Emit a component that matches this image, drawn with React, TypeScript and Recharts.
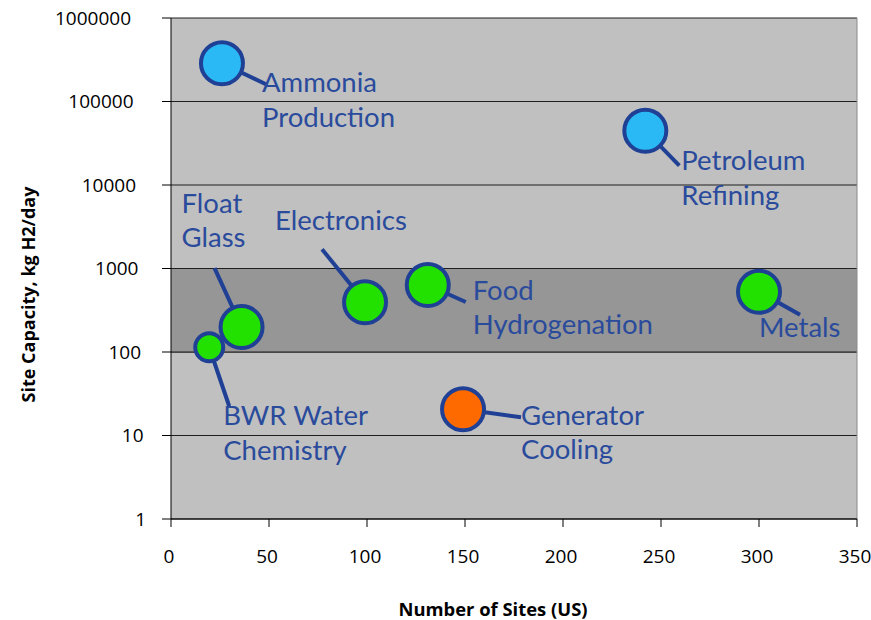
import React from "react";
import {
  ScatterChart,
  Scatter,
  XAxis,
  YAxis,
  ZAxis,
  CartesianGrid,
  ReferenceArea,
  ReferenceLine,
} from "recharts";

// ---- data ----
const SECTORS = [
  "Ammonia Production",
  "Petroleum Refining",
  "Float Glass",
  "BWR Water Chemistry",
  "Electronics",
  "Food Hydrogenation",
  "Metals",
  "Generator Cooling",
];
const SITE_COUNTS = [26, 242, 36, 19.5, 99, 131, 300, 149];
const SITE_CAPACITY = [287000, 44700, 199, 114, 394, 634, 527, 20.6];
const BUBBLE_WEIGHT = [3, 3, 3, 1, 3, 3, 3, 3];
const TIER = ["large", "large", "mid", "mid", "mid", "mid", "mid", "small"];
const LABEL_LINES = [
  ["Ammonia", "Production"],
  ["Petroleum", "Refining"],
  ["Float", "Glass"],
  ["BWR Water", "Chemistry"],
  ["Electronics"],
  ["Food", "Hydrogenation"],
  ["Metals"],
  ["Generator", "Cooling"],
];
const X_TICKS = [0, 50, 100, 150, 200, 250, 300, 350];
const Y_TICKS = [1, 10, 100, 1000, 10000, 100000, 1000000];
const BAND = [100, 1000];

const points = SECTORS.map((name, i) => ({
  name,
  sites: SITE_COUNTS[i],
  capacity: SITE_CAPACITY[i],
  z: BUBBLE_WEIGHT[i],
  tier: TIER[i],
  lines: LABEL_LINES[i],
}));

// ---- styles / layout ----
const FILL: Record<string, string> = {
  large: "#2bb9f5",
  mid: "#22e000",
  small: "#ff6a00",
};
const NAVY = "#1f4095";
const TEXT_BLUE = "#2a4b9c";
// leader-line end (lx, ly) and label anchor (tx, ty) relative to bubble centre, line gap
const LAYOUT: Record<string, { lx: number; ly: number; tx: number; ty: number; gap: number }> = {
  "Ammonia Production": { lx: 44, ly: 21, tx: 40, ty: 29, gap: 35 },
  "Petroleum Refining": { lx: 34, ly: 35, tx: 36, ty: 39, gap: 35 },
  "Float Glass": { lx: -27, ly: -59, tx: -60, ty: -114, gap: 34 },
  "BWR Water Chemistry": { lx: 20, ly: 59, tx: 14, ty: 78, gap: 35 },
  Electronics: { lx: -43, ly: -53, tx: -90, ty: -72, gap: 35 },
  "Food Hydrogenation": { lx: 38, ly: 17, tx: 45, ty: 15, gap: 34 },
  Metals: { lx: 41, ly: 23, tx: 0, ty: 45, gap: 35 },
  "Generator Cooling": { lx: 58, ly: 8, tx: 58, ty: 16, gap: 34 },
};

const Bubble = (props: any) => {
  const { cx, cy, payload } = props;
  if (cx == null || cy == null) return null;
  const size = props.size ?? (props.width ? Math.PI * (props.width / 2) ** 2 : 1385);
  const r = Math.sqrt(size / Math.PI);
  const L = LAYOUT[payload.name];
  return (
    <g>
      <line x1={cx} y1={cy} x2={cx + L.lx} y2={cy + L.ly} stroke={NAVY} strokeWidth={4} />
      <circle cx={cx} cy={cy} r={r} fill={FILL[payload.tier]} stroke={NAVY} strokeWidth={4} />
      {payload.lines.map((t: string, k: number) => (
        <text
          key={k}
          x={cx + L.tx}
          y={cy + L.ty + k * L.gap}
          fill={TEXT_BLUE}
          fontFamily="Lato, 'Noto Sans', sans-serif"
          fontSize={27.5}
        >
          {t}
        </text>
      ))}
    </g>
  );
};

const YTick = (p: any) => {
  const s = String(p.payload.value);
  return (
    <text
      x={p.x - 2.5 * (s.length - 1)}
      y={p.y}
      dy="0.36em"
      textAnchor="end"
      fill="#000"
      fontFamily="'Open Sans', sans-serif"
      fontSize={19}
    >
      {s}
    </text>
  );
};

const XTick = (p: any) => (
  <text
    x={p.x - 2}
    y={p.y}
    dy="0.74em"
    textAnchor="middle"
    fill="#000"
    fontFamily="'Open Sans', sans-serif"
    fontSize={19}
  >
    {p.payload.value}
  </text>
);

const XTitle = (p: any) => {
  const vb = p.viewBox || { x: 171, y: 519, width: 686, height: 101 };
  const x = vb.x + vb.width / 2 - 21;
  const y = vb.y + 97;
  return (
    <text
      x={x}
      y={y}
      textAnchor="middle"
      fontFamily="'Open Sans', sans-serif"
      fontWeight={700}
      fontSize={18}
      fill="#000"
      textLength={189}
      lengthAdjust="spacingAndGlyphs"
    >
      Number of Sites (US)
    </text>
  );
};

const YTitle = (p: any) => {
  const vb = p.viewBox || { x: 0, y: 18, width: 171, height: 501 };
  const x = vb.x + 35;
  const y = vb.y + vb.height / 2 + 26;
  return (
    <text
      x={x}
      y={y}
      transform={`rotate(-90, ${x}, ${y})`}
      textAnchor="middle"
      fontFamily="'Open Sans', sans-serif"
      fontWeight={700}
      fontSize={18}
      fill="#000"
      textLength={216}
      lengthAdjust="spacingAndGlyphs"
    >
      Site Capacity, kg H2/day
    </text>
  );
};

export default function App() {
  return (
    <div style={{ position: "absolute", left: 0, top: 0, width: 871, height: 620, background: "#fff" }}>
      <ScatterChart width={871} height={620} margin={{ top: 18, right: 14, bottom: 0, left: 0 }}>
        <CartesianGrid
          horizontal
          vertical={false}
          stroke="#1e1e1e"
          strokeOpacity={1}
          fill="#c0c0c0"
          fillOpacity={1}
        />
        <ReferenceArea y1={BAND[0]} y2={BAND[1]} fill="#969696" fillOpacity={1} stroke="none" />
        <ReferenceLine y={BAND[0]} stroke="#1e1e1e" strokeWidth={1} />
        <ReferenceLine y={BAND[1]} stroke="#1e1e1e" strokeWidth={1} />
        <ReferenceLine x={350} stroke="#8a8a8a" strokeWidth={1} />
        <XAxis
          type="number"
          dataKey="sites"
          domain={[0, 350]}
          ticks={X_TICKS}
          interval={0}
          height={101}
          tickSize={8}
          tickMargin={22}
          axisLine={{ stroke: "#000" }}
          tickLine={{ stroke: "#000" }}
          tick={<XTick />}
          label={{ content: <XTitle /> } as any}
        />
        <YAxis
          type="number"
          dataKey="capacity"
          scale="log"
          domain={[1, 1000000]}
          ticks={Y_TICKS}
          interval={0}
          allowDataOverflow
          width={171}
          tickSize={9}
          tickMargin={16}
          axisLine={{ stroke: "#000" }}
          tickLine={{ stroke: "#000" }}
          tick={<YTick />}
          label={{ content: <YTitle /> } as any}
        />
        <ZAxis type="number" dataKey="z" domain={[1, 3]} range={[616, 1385]} />
        <Scatter data={points} shape={<Bubble />} isAnimationActive={false} />
      </ScatterChart>
    </div>
  );
}
